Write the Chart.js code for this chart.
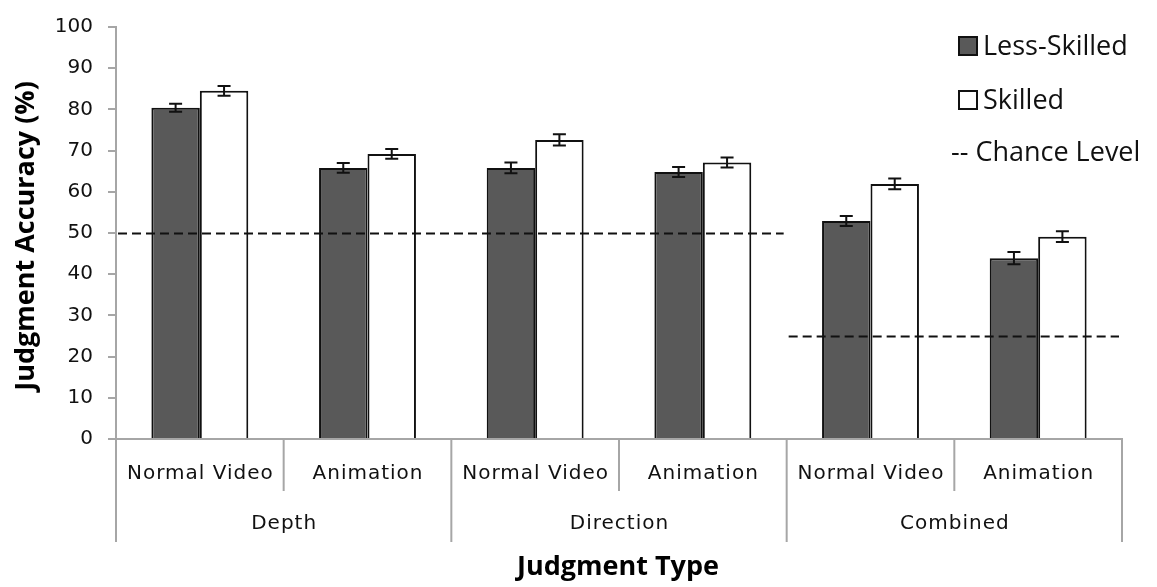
<!DOCTYPE html>
<html>
<head>
<meta charset="utf-8">
<script src="https://cdn.jsdelivr.net/npm/chart.js@4.4.1/dist/chart.umd.min.js"></script>
<style>
  html, body { margin: 0; padding: 0; background: #ffffff; }
  #wrap { width: 1157px; height: 587px; }
</style>
</head>
<body>
<div id="wrap"><canvas id="chart" width="1157" height="587"></canvas></div>
<script>
// Judgment accuracy by judgment type and presentation mode
const categories = ['Normal Video', 'Animation', 'Normal Video', 'Animation', 'Normal Video', 'Animation'];
const groups = ['Depth', 'Direction', 'Combined'];
const lessSkilled = [80.4, 65.8, 65.8, 64.8, 52.9, 43.9];
const skilled = [84.5, 69.2, 72.6, 67.1, 61.9, 49.1];
const lessSkilledErr = [1.0, 1.2, 1.3, 1.2, 1.2, 1.5];
const skilledErr = [1.2, 1.2, 1.35, 1.2, 1.3, 1.3];
const chanceLevel = [50, 50, 25];          // one value per judgment type
const yMin = 0, yMax = 100, yStep = 10;

const axisGrey = '#a6a6a6';
const ink = '#111111';
const tickFont = '20px "DejaVu Sans"';
const titleFont = 'bold 27px "Open Sans"';
const legendFont = '27px "Open Sans"';

// Error bars, chance-level lines, category axis labels, titles and legend
const decor = {
  id: 'decor',
  afterDatasetsDraw(chart) {
    const ctx = chart.ctx;
    const y = chart.scales.y;
    const x = chart.scales.x;
    const errs = [lessSkilledErr, skilledErr];
    ctx.save();
    ctx.strokeStyle = ink;
    ctx.lineWidth = 2;
    chart.data.datasets.forEach((ds, di) => {
      const meta = chart.getDatasetMeta(di);
      meta.data.forEach((bar, i) => {
        const v = ds.data[i], e = errs[di][i];
        const yTop = y.getPixelForValue(v + e), yBot = y.getPixelForValue(v - e);
        const cx = bar.x, cap = 6.5;
        ctx.beginPath();
        ctx.moveTo(cx, yTop); ctx.lineTo(cx, yBot);
        ctx.moveTo(cx - cap, yTop); ctx.lineTo(cx + cap, yTop);
        ctx.moveTo(cx - cap, yBot); ctx.lineTo(cx + cap, yBot);
        ctx.stroke();
      });
    });

    // chance level: merge neighbouring groups that share a level
    const half = (x.getPixelForValue(1) - x.getPixelForValue(0)) / 2;
    const segs = [];
    chanceLevel.forEach((lv, g) => {
      const x0 = x.getPixelForValue(2 * g) - half;
      const x1 = x.getPixelForValue(2 * g + 1) + half;
      const last = segs[segs.length - 1];
      if (last && last.lv === lv) last.x1 = x1; else segs.push({ lv, x0, x1 });
    });
    ctx.setLineDash([9, 5]);
    ctx.strokeStyle = '#111111';
    segs.forEach((s) => {
      const py = Math.round(y.getPixelForValue(s.lv)) + 0.5;
      ctx.beginPath();
      ctx.moveTo(s.x0 + 2, py);
      ctx.lineTo(s.x1 - 3, py);
      ctx.stroke();
    });
    ctx.restore();
  },
  afterDraw(chart) {
    const ctx = chart.ctx;
    const x = chart.scales.x;
    const area = chart.chartArea;
    const half = (x.getPixelForValue(1) - x.getPixelForValue(0)) / 2;
    const base = area.bottom;
    ctx.save();

    // separators of the two-level category axis
    ctx.strokeStyle = axisGrey;
    ctx.lineWidth = 2;
    categories.forEach((c, i) => {
      const edge = x.getPixelForValue(i) - half;
      const isGroup = i % 2 === 0;
      ctx.beginPath();
      ctx.moveTo(edge, base);
      ctx.lineTo(edge, base + (isGroup ? 103 : 52));
      ctx.stroke();
    });
    const rightEdge = x.getPixelForValue(categories.length - 1) + half;
    ctx.beginPath();
    ctx.moveTo(rightEdge, base - 1);
    ctx.lineTo(rightEdge, base + 103);
    ctx.stroke();

    // category labels
    ctx.fillStyle = ink;
    ctx.font = tickFont;
    ctx.textAlign = 'center';
    ctx.textBaseline = 'middle';
    ctx.letterSpacing = '1px';
    categories.forEach((c, i) => {
      ctx.fillText(c, x.getPixelForValue(i) + 0.5, base + 35);
    });
    groups.forEach((g, k) => {
      const cx = (x.getPixelForValue(2 * k) + x.getPixelForValue(2 * k + 1)) / 2;
      ctx.fillText(g, cx + 0.5, base + 85);
    });
    ctx.letterSpacing = '0px';

    // axis titles
    ctx.font = titleFont;
    ctx.fillStyle = '#000000';
    ctx.fillText('Judgment Type', 618, 567);
    ctx.save();
    ctx.translate(26, 236);
    ctx.rotate(-Math.PI / 2);
    ctx.fillText('Judgment Accuracy (%)', 0, 0);
    ctx.restore();

    // legend
    ctx.font = legendFont;
    ctx.textAlign = 'left';
    const rows = [46, 100, 152];
    chart.data.datasets.forEach((ds, di) => {
      const cy = rows[di];
      ctx.fillStyle = ds.backgroundColor;
      ctx.fillRect(959, cy - 9, 18, 18);
      ctx.strokeStyle = ink;
      ctx.lineWidth = 2;
      ctx.strokeRect(959, cy - 9, 18, 18);
      ctx.fillStyle = ink;
      ctx.fillText(ds.label, 983, cy + 1);
    });
    ctx.fillText('-- Chance Level', 951, rows[2] + 1);
    ctx.restore();
  }
};

new Chart(document.getElementById('chart'), {
  type: 'bar',
  data: {
    labels: categories,
    datasets: [
      { label: 'Less-Skilled', data: lessSkilled, backgroundColor: '#595959', borderColor: ink, borderWidth: 2 },
      { label: 'Skilled', data: skilled, backgroundColor: '#ffffff', borderColor: ink, borderWidth: 2 }
    ]
  },
  options: {
    responsive: false,
    devicePixelRatio: 1,
    animation: false,
    layout: { padding: { top: 20, right: 35, left: 0, bottom: 0 } },
    datasets: { bar: { categoryPercentage: 0.578, barPercentage: 1.0 } },
    plugins: { legend: { display: false }, tooltip: { enabled: false } },
    scales: {
      x: {
        ticks: { display: false },
        grid: { display: false },
        border: { display: true, color: axisGrey, width: 2 },
        afterFit(scale) { scale.height = 148; }
      },
      y: {
        min: yMin, max: yMax,
        ticks: { stepSize: yStep, font: { family: 'DejaVu Sans', size: 20 }, color: ink, padding: 15 },
        grid: { drawOnChartArea: false, drawTicks: true, tickLength: 8, color: axisGrey, lineWidth: 2 },
        border: { display: true, color: axisGrey, width: 2 },
        afterFit(scale) { scale.width = 116; }
      }
    }
  },
  plugins: [decor]
});
</script>
</body>
</html>
